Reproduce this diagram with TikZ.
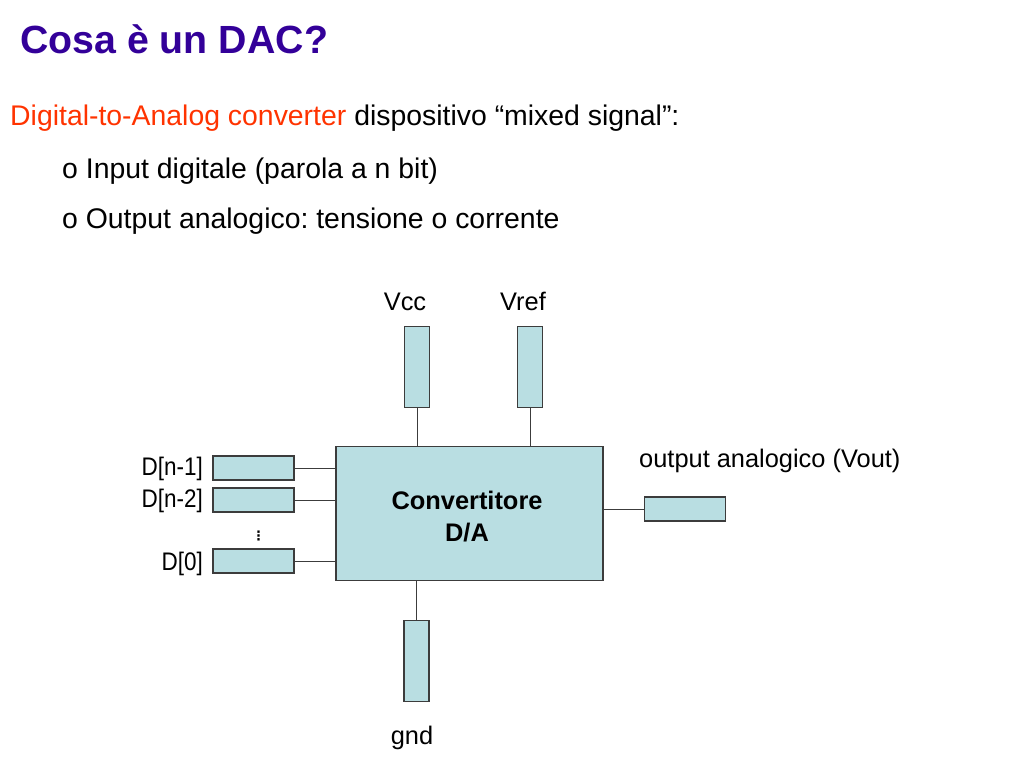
\documentclass[tikz,border=0pt]{standalone}
\usepackage{fontspec}
\setmainfont{Liberation Sans}
\newfontfamily\dotsfont{DejaVu Sans}
\frenchspacing
\usetikzlibrary{positioning}
\definecolor{mypurple}{RGB}{51,0,153}
\definecolor{myred}{RGB}{255,51,0}
\definecolor{myfill}{RGB}{185,222,226}
\definecolor{myedge}{RGB}{60,60,60}
\newcommand{\lblsize}{\fontsize{25.4}{32}\selectfont}

\begin{document}
\begin{tikzpicture}[x=1pt,y=-1pt,
  box/.style={draw=myedge,fill=myfill,line width=1.2pt,inner sep=0pt},
  vpin/.style={box,minimum width=25pt,minimum height=81pt},
  hpin/.style={box,minimum width=81pt,minimum height=24pt},
  lbl/.style={inner sep=0pt,font=\lblsize},
  dlbl/.style={lbl,anchor=base east,xscale=0.885},
  txt/.style={inner sep=0pt,anchor=base west,font=\fontsize{28.4}{34}\selectfont},
  wire/.style={draw=myedge,line width=1pt}]

  \useasboundingbox (0,0) rectangle (1024,768);

  % title and text lines
  \node[inner sep=0pt,anchor=base west,font=\fontsize{39.3}{45}\selectfont\bfseries,text=mypurple] (title) at (20,53) {Cosa è un DAC?};
  \node[txt] (line1) at (10,125) {\textcolor{myred}{Digital-to-Analog converter} dispositivo “mixed signal”:};
  \node[txt] (line2) at (62,178) {o Input digitale (parola a n bit)};
  \node[txt] (line3) at (62,228) {o Output analogico: tensione o corrente};

  % converter block
  \node[box,minimum width=267pt,minimum height=134pt] (conv) at (469.5,513.5) {};
  \node[align=center,inner sep=0pt,font=\lblsize\bfseries] (convlbl) at (467,516.5) {Convertitore\\D/A};

  % pins
  \node[vpin] (vcc) at (417,367) {};
  \node[vpin] (vref) at (530,367) {};
  \node[vpin] (gnd) at (416.5,661) {};
  \node[hpin] (dn1) at (253.5,468) {};
  \node[hpin] (dn2) at (253.5,500) {};
  \node[hpin] (d0) at (253.5,561) {};
  \node[hpin] (vout) at (685,509) {};

  % wires to the block
  \draw[wire] (vcc.south) -- (vcc.south |- conv.north)
              (vref.south) -- (vref.south |- conv.north)
              (gnd.north) -- (gnd.north |- conv.south)
              (dn1.east) -- (dn1.east -| conv.west)
              (dn2.east) -- (dn2.east -| conv.west)
              (d0.east) -- (d0.east -| conv.west)
              (vout.west) -- (vout.west -| conv.east);

  % pin labels
  \node[lbl,anchor=base] (vcclbl) at (405,310) {Vcc};
  \node[lbl,anchor=base] (vreflbl) at (523,310) {Vref};
  \node[lbl,anchor=base] (gndlbl) at (412,744) {gnd};
  \node[dlbl] (dn1lbl) at (203,475) {D[n-1]};
  \node[dlbl] (dn2lbl) at (203,507) {D[n-2]};
  \node[dlbl] (d0lbl) at (203,570) {D[0]};
  \node[lbl,anchor=base west] (voutlbl) at (639,467) {output analogico (Vout)};
  \node[inner sep=0pt,font=\dotsfont\bfseries\fontsize{13}{13}\selectfont] (dots) at (258.5,536) {⋮};

\end{tikzpicture}
\end{document}
